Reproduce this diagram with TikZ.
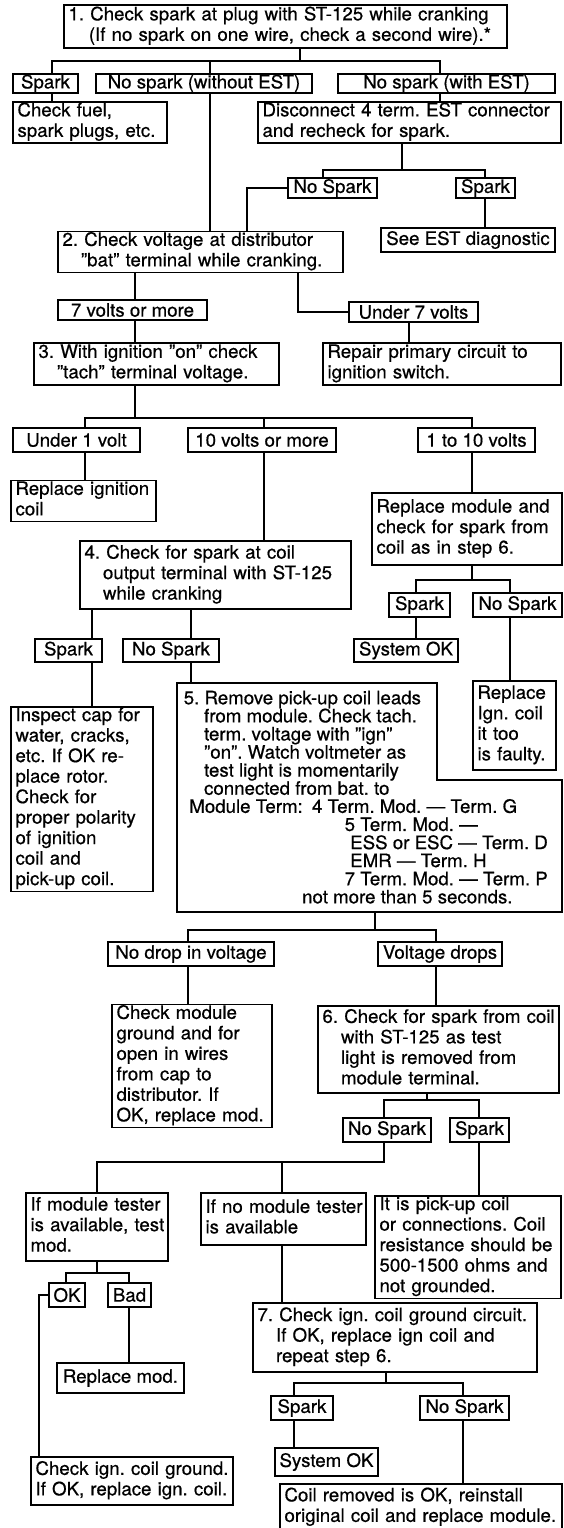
\documentclass[tikz,border=0pt]{standalone}
\usepackage{fontspec}
\setmainfont{TeX Gyre Heros}[FakeStretch=1.01, FakeBold=0.6]
\frenchspacing

% left-aligned multi-line box: name, x1, y1, x2, y2, lines
\newcommand\bx[7][]{%
  \pgfmathsetmacro\bxw{#5-#3}\pgfmathsetmacro\bxh{#6-#4}%
  \pgfmathsetmacro\bxcx{(#3+#5)/2}\pgfmathsetmacro\bxcy{(#4+#6)/2}%
  \pgfmathsetmacro\bxtw{#5-#3-9}%
  \node[box,align=left,minimum width=\bxw pt,minimum height=\bxh pt,
        text width=\bxtw pt,#1] (#2) at (\bxcx,\bxcy)
        {\begin{tabular}{@{}l@{}}#7\end{tabular}};}
% centred one-line label: name, x1, y1, x2, y2, text
\newcommand\sbx[6]{%
  \pgfmathsetmacro\bxw{#4-#2}\pgfmathsetmacro\bxh{#5-#3}%
  \pgfmathsetmacro\bxcx{(#2+#4)/2}\pgfmathsetmacro\bxcy{(#3+#5)/2}%
  \node[box,minimum width=\bxw pt,minimum height=\bxh pt] (#1) at (\bxcx,\bxcy) {#6};}

\begin{document}
\begin{tikzpicture}[x=1pt,y=-1pt,
  line width=1.5pt, line join=miter,
  font=\fontsize{18.5}{20.5}\selectfont,
  box/.style={draw, inner xsep=4.5pt, inner ysep=0pt, outer sep=0pt}]

\path[use as bounding box, fill=white] (0,0) rectangle (563,1528);

% ---------- step 1 ----------
\bx{n1}{64}{5}{507}{48}{1. Check spark at plug with ST-125 while cranking\\
  \hspace*{1.1em}(If no spark on one wire, check a second wire).*}
\sbx{sp1}{13}{74}{78}{93}{Spark}
\sbx{nw1}{96}{74}{312}{93}{No spark (without EST)}
\sbx{ws1}{338}{74}{555}{93}{No spark (with EST)}
\bx{fuel}{13}{103}{167}{142}{Check fuel,\\spark plugs, etc.}
\bx{disc}{258}{103}{561}{142}{Disconnect 4 term. EST connector\\and recheck for spark.}
\sbx{ns2}{288}{178}{377}{198}{No Spark}
\sbx{sp2}{456}{178}{515}{198}{Spark}
\sbx{est}{381}{228}{555}{252}{See EST diagnostic}

\draw (n1.south -| 300,0) -- (300,61);
\draw (sp1.north -| 52,0) -- (52,61) -- (440,61) -- (ws1.north -| 440,0);
\draw (210,61) -- (nw1.north -| 210,0);
\draw (sp1.south -| 52,0) -- (fuel.north -| 52,0);
\draw (ws1.south -| 440,0) -- (disc.north -| 440,0);
\draw (disc.south -| 402,0) -- (402,170);
\draw (ns2.north -| 323,0) -- (323,170) -- (485,170) -- (sp2.north -| 485,0);
\draw (sp2.south -| 485,0) -- (est.north -| 485,0);

% ---------- step 2 ----------
\bx{b2}{58}{232}{343}{272}{2. Check voltage at distributor\\
  \hspace*{1em}"bat" terminal while cranking.}
\sbx{v7}{58}{300}{207}{320}{7 volts or more}
\sbx{u7}{349}{302}{478}{322}{Under 7 volts}
\bx{rep}{323}{343}{561}{385}{Repair primary circuit to\\ignition switch.}

\draw (nw1.south -| 210,0) -- (b2.north -| 210,0);
\draw (ns2.west) -- (ns2.west -| 247,0) -- (b2.north -| 247,0);
\draw (b2.south -| 135,0) -- (v7.north -| 135,0);
\draw (b2.south -| 298,0) |- (u7.west);
\draw (u7.south -| 409,0) -- (rep.north -| 409,0);

% ---------- step 3 ----------
\bx{b3}{34}{343}{279}{385}{3. With ignition "on" check\\
  \hspace*{1em}"tach" terminal voltage.}
\sbx{u1}{13}{428}{140}{452}{Under 1 volt}
\sbx{t10}{188}{428}{336}{452}{10 volts or more}
\sbx{o10}{418}{428}{535}{452}{1 to 10 volts}
\bx{ric}{11}{482}{156}{520}{Replace ignition\\coil}
\bx{rm}{372}{493}{562}{565}{Replace module and\\check for spark from\\coil as in step 6.}
\sbx{sp3}{389}{593}{450}{617}{Spark}
\sbx{ns3}{473}{593}{562}{617}{No Spark}
\sbx{sok1}{354}{639}{458}{662}{System OK}
\bx{rig}{473}{681}{556}{770}{Replace\\Ign. coil\\it too\\is faulty.}

\draw (v7.south -| 135,0) -- (b3.north -| 135,0);
\draw (b3.south -| 135,0) -- (135,418);
\draw (u1.north -| 85,0) -- (85,418) -- (472,418) -- (o10.north -| 472,0);
\draw (264,418) -- (t10.north -| 264,0);
\draw (u1.south -| 85,0) -- (ric.north -| 85,0);
\draw (o10.south -| 472,0) -- (rm.north -| 472,0);
\draw (rm.south -| 472,0) -- (472,580);
\draw (sp3.north -| 416,0) -- (416,580) -- (510,580) -- (ns3.north -| 510,0);
\draw (sp3.south -| 416,0) -- (sok1.north -| 416,0);
\draw (ns3.south -| 510,0) -- (rig.north -| 510,0);

% ---------- step 4 ----------
\bx{b4}{80}{541}{351}{609}{4. Check for spark at coil\\
  \hspace*{1em}output terminal with ST-125\\\hspace*{1em}while cranking}
\sbx{sp4}{35}{639}{102}{662}{Spark}
\sbx{ns4}{123}{639}{219}{662}{No Spark}
\bx{insp}{11}{708}{153}{890}{Inspect cap for\\water, cracks,\\etc. If OK re-\\place rotor.\\
  Check for\\proper polarity\\of ignition\\coil and\\pick-up coil.}

\draw (t10.south -| 264,0) -- (b4.north -| 264,0);
\draw (b4.south -| 92,0) -- (sp4.north -| 92,0);
\draw (sp4.south -| 92,0) -- (insp.north -| 92,0);
\draw (b4.south -| 191,0) -- (ns4.north -| 191,0);

% ---------- step 5 (notched box) ----------
\coordinate (b5nw) at (177,683);
\coordinate (b5sw) at (177,912);
\draw (b5nw) -- (437,683) -- (437,780) -- (562,780) -- (562,912) -- (b5sw) -- cycle;
\node[anchor=north west, inner sep=0pt, align=left,
      font=\fontsize{18.5}{18.1}\selectfont] (b5) at (183,690) {%
  5. Remove pick-up coil leads\\
  \hspace*{1.1em}from module. Check tach.\\
  \hspace*{1.1em}term. voltage with "ign"\\
  \hspace*{1.1em}"on". Watch voltmeter as\\
  \hspace*{1.1em}test light is momentarily\\
  \hspace*{1.1em}connected from bat. to\\
  \hspace*{0.3em}Module Term:\hspace{0.5em}4 Term. Mod. — Term. G\\
  \hspace*{8.7em}5 Term. Mod. —\\
  \hspace*{9.0em}ESS or ESC — Term. D\\
  \hspace*{9.0em}EMR — Term. H\\
  \hspace*{8.7em}7 Term. Mod. — Term. P\\
  \hspace*{6.4em}not more than 5 seconds.};

\draw (ns4.south -| 191,0) -- (b5nw -| 191,0);

\sbx{nd}{108}{942}{274}{966}{No drop in voltage}
\sbx{vd}{378}{942}{502}{966}{Voltage drops}
\bx{cm}{112}{1006}{272}{1126}{Check module\\ground and for\\open in wires\\from cap to\\
  distributor. If\\OK, replace mod.}

\draw (b5sw -| 375,0) -- (375,930);
\draw (nd.north -| 188,0) -- (188,930) -- (436,930) -- (vd.north -| 436,0);
\draw (nd.south -| 188,0) -- (cm.north -| 188,0);

% ---------- step 6 ----------
\bx{b6}{318}{1006}{559}{1093}{6. Check for spark from coil\\
  \hspace*{1em}with ST-125 as test\\\hspace*{1em}light is removed from\\
  \hspace*{1em}module terminal.}
\sbx{ns5}{343}{1118}{431}{1142}{No Spark}
\sbx{sp5}{450}{1118}{509}{1142}{Spark}
\bx{ifm}{26}{1193}{168}{1261}{If module tester\\is available, test\\mod.}
\bx{ifn}{201}{1193}{366}{1245}{If no module tester\\is available}
\bx{pu}{375}{1197}{561}{1297}{It is pick-up coil\\
  or connections. Coil\\resistance should be\\500-1500 ohms and\\not grounded.}

\draw (vd.south -| 436,0) -- (b6.north -| 436,0);
\draw (b6.south -| 427,0) -- (427,1100);
\draw (ns5.north -| 384,0) -- (384,1100) -- (479,1100) -- (sp5.north -| 479,0);
\draw (ns5.south -| 384,0) -- (384,1162) -- (97,1162) -- (ifm.north -| 97,0);
\draw (282,1162) -- (ifn.north -| 282,0);
\draw (sp5.south -| 479,0) -- (pu.north -| 479,0);

% ---------- module tester branch ----------
\sbx{ok}{50}{1283}{84}{1307}{OK}
\sbx{bad}{108}{1283}{151}{1307}{Bad}
\sbx{rmod}{57}{1363}{184}{1393}{Replace mod.}
\bx{cig}{31}{1457}{233}{1505}{Check ign. coil ground.\\If OK, replace ign. coil.}

\draw (ifm.south -| 97,0) -- (97,1273);
\draw (ok.north -| 66,0) -- (66,1273) -- (129,1273) -- (bad.north -| 129,0);
\draw (ok.west) -- (ok.west -| 39,0) -- (cig.north -| 39,0);
\draw (bad.south -| 129,0) -- (rmod.north -| 129,0);

% ---------- step 7 ----------
\bx{b7}{253}{1303}{537}{1372}{7. Check ign. coil ground circuit.\\
  \hspace*{1em}If OK, replace ign coil and\\\hspace*{1em}repeat step 6.}
\sbx{sp6}{271}{1396}{333}{1420}{Spark}
\sbx{ns6}{420}{1396}{509}{1420}{No Spark}
\sbx{sok2}{275}{1448}{378}{1476}{System OK}
\bx{cr}{280}{1484}{562}{1531}{Coil removed is OK, reinstall\\original coil and replace module.}

\draw (ifn.south -| 282,0) -- (b7.north -| 282,0);
\draw (b7.south -| 386,0) -- (386,1383);
\draw (sp6.north -| 294,0) -- (294,1383) -- (463,1383) -- (ns6.north -| 463,0);
\draw (sp6.south -| 294,0) -- (sok2.north -| 294,0);
\draw (ns6.south -| 463,0) -- (cr.north -| 463,0);

\end{tikzpicture}
\end{document}
